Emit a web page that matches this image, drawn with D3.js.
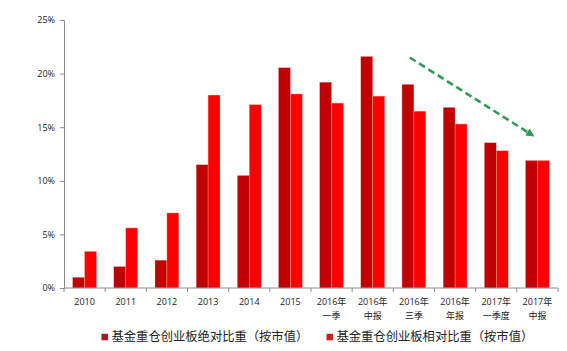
<!DOCTYPE html>
<html><head><meta charset="utf-8">
<script src="https://cdn.jsdelivr.net/npm/d3@7/dist/d3.min.js"></script>
<style>
html,body{margin:0;padding:0;background:#fff;}
svg{display:block;}
</style></head>
<body>
<svg id="chart" width="567" height="351"></svg>
<script>
const categories = ["2010","2011","2012","2013","2014","2015","2016年\n一季","2016年\n中报","2016年\n三季","2016年\n年报","2017年\n一季度","2017年\n中报"];
const absoluteWeight = [1.0, 2.0, 2.6, 11.5, 10.5, 20.55, 19.2, 21.6, 19.0, 16.85, 13.55, 11.9];
const relativeWeight = [3.42, 5.6, 7.0, 18.0, 17.1, 18.1, 17.25, 17.9, 16.5, 15.3, 12.8, 11.9];
const seriesNames = ["基金重仓创业板绝对比重（按市值）", "基金重仓创业板相对比重（按市值）"];
const yTicks = [0, 5, 10, 15, 20, 25];

const barColors = ["#C00000", "#FF0000"];
const legendColors = ["#B0141A", "#D01C1C"];

const svg = d3.select("#chart");
const m = {left: 64, right: 9, top: 20, bottom: 63};
const W = 567, H = 351;
const x = d3.scaleBand().domain(categories).range([m.left, W - m.right]).padding(0);
const bw = x.bandwidth();
const x1 = d3.scaleBand().domain([0, 1]).range([bw * 0.21, bw * 0.79]).padding(0);
const y = d3.scaleLinear().domain([0, 25]).range([H - m.bottom, m.top]);

const axisColor = "#8c8c8c";
const font = "'Open Sans','Noto Sans CJK SC',sans-serif";

// bars
const series = [absoluteWeight, relativeWeight];
series.forEach((vals, si) => {
  svg.append("g").selectAll("rect").data(vals).join("rect")
    .attr("x", (d, i) => x(categories[i]) + x1(si))
    .attr("y", d => y(d))
    .attr("width", x1.bandwidth())
    .attr("height", d => y(0) - y(d))
    .attr("fill", barColors[si])
    .attr("stroke", "#f2b0b0")
    .attr("stroke-width", 0.4);
});

// y axis
const yAxis = d3.axisLeft(y).tickValues(yTicks).tickFormat(d => d + "%").tickSize(4).tickPadding(5);
const gy = svg.append("g").attr("transform", `translate(${m.left},0)`).call(yAxis);
gy.select(".domain").attr("stroke", axisColor);
gy.selectAll(".tick line").attr("stroke", axisColor);
gy.selectAll("text").attr("font-family", font).attr("font-size", 9).attr("fill", "#222");

// x axis
const gx = svg.append("g").attr("transform", `translate(0,${y(0)})`);
gx.append("line").attr("x1", m.left).attr("x2", W - m.right).attr("y1", 0).attr("y2", 0).attr("stroke", axisColor);
const bounds = categories.map(c => x(c)).concat([x(categories[categories.length - 1]) + bw]);
gx.selectAll("line.tk").data(bounds).join("line").attr("class", "tk")
  .attr("x1", d => d).attr("x2", d => d).attr("y1", 0).attr("y2", 4).attr("stroke", axisColor);
const lbl = gx.selectAll("text").data(categories).join("text")
  .attr("x", d => x(d) + bw / 2)
  .attr("y", 17)
  .attr("text-anchor", "middle")
  .attr("font-family", font).attr("font-size", 9).attr("fill", "#222");
lbl.each(function(d) {
  const parts = d.split("\n");
  const t = d3.select(this);
  parts.forEach((p, i) => {
    t.append("tspan").attr("x", x(d) + bw / 2).attr("dy", i === 0 ? 0 : 13.5).text(p);
  });
});

// trend arrow (annotation positioned via scales)
const defs = svg.append("defs");
defs.append("marker").attr("id", "ah").attr("viewBox", "0 0 10 10").attr("refX", 6).attr("refY", 5)
  .attr("markerWidth", 3.2).attr("markerHeight", 3.2).attr("orient", "auto")
  .append("path").attr("d", "M0,0 L10,5 L0,10 z").attr("fill", "#2f9a52");
const ax1 = x(categories[8]) + bw * 0.4, ay1 = y(21.5);
const ax2 = x(categories[11]) + bw * 0.36, ay2 = y(14.3);
svg.append("line").attr("x1", ax1).attr("y1", ay1).attr("x2", ax2).attr("y2", ay2)
  .attr("stroke", "#2f9a52").attr("stroke-width", 2.6).attr("stroke-dasharray", "7,4")
  .attr("marker-end", "url(#ah)");

// legend
const legendX = [101.5, 326.5];
seriesNames.forEach((name, i) => {
  const g = svg.append("g").attr("transform", `translate(${legendX[i]},337)`);
  g.append("rect").attr("x", 0).attr("y", -3.2).attr("width", 6.5).attr("height", 6.5).attr("fill", legendColors[i]);
  g.append("text").attr("x", 10).attr("y", 0).attr("dy", "0.35em")
    .attr("font-family", "'Noto Sans CJK SC',sans-serif").attr("font-size", 12.3).attr("fill", "#222")
    .text(name);
});
</script>
</body></html>
